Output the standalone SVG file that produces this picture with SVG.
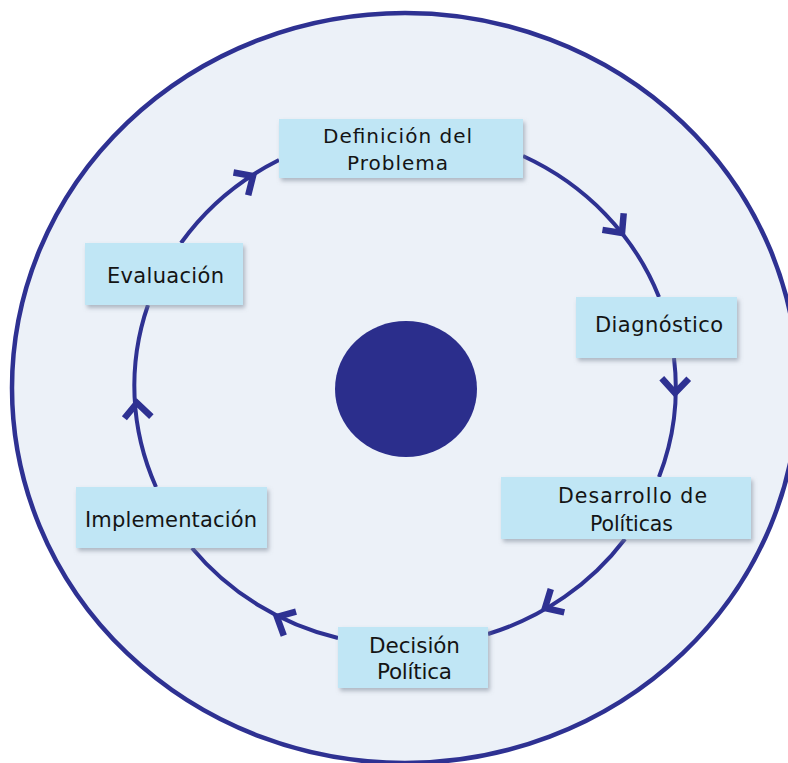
<svg xmlns="http://www.w3.org/2000/svg" width="788" height="763" viewBox="0 0 788 763">
  <defs>
    <filter id="sh" x="-10%" y="-20%" width="130%" height="150%">
      <feDropShadow dx="2" dy="3" stdDeviation="2" flood-color="#7a8594" flood-opacity="0.55"/>
    </filter>
    <path id="chev" d="M-14.5,-13.5 L0,0 L-14.5,13.5"/>
  </defs>
  <style>
    .box { fill: #C0E6F5; filter: url(#sh); }
    .lbl { font-family: "DejaVu Sans", "Liberation Sans", sans-serif; fill: #141414; text-anchor: middle; }
    .arc { fill: none; stroke: #2E3192; stroke-width: 4; }
    .hd { fill: none; stroke: #2E3192; stroke-width: 6.5; stroke-linejoin: miter; }
  </style>
  <rect width="788" height="763" fill="#FFFFFF"/>
  <g id="outer">
    <ellipse cx="405" cy="388" rx="393" ry="375" fill="#ECF1F8" stroke="#2E3192" stroke-width="4.5"/>
  </g>
  <g id="center">
    <ellipse cx="406" cy="389" rx="71" ry="68" fill="#2B2E8C"/>
  </g>
  <g id="connectors">
    <path class="arc" d="M181,243 A271,258 0 0,1 279,160"/>
    <path class="arc" d="M523,156 A271,258 0 0,1 659,297"/>
    <path class="arc" d="M674,358 A271,258 0 0,1 659,477"/>
    <path class="arc" d="M625,539 A271,258 0 0,1 488,634"/>
    <path class="arc" d="M338,638 A271,258 0 0,1 192,548"/>
    <path class="arc" d="M156,487 A271,258 0 0,1 148,305"/>
    <use href="#chev" class="hd" transform="translate(253,176) rotate(-33)"/>
    <use href="#chev" class="hd" transform="translate(622,233) rotate(52)"/>
    <use href="#chev" class="hd" transform="translate(675,393) rotate(91)"/>
    <use href="#chev" class="hd" transform="translate(545,608) rotate(150)"/>
    <use href="#chev" class="hd" transform="translate(277,617) rotate(207)"/>
    <use href="#chev" class="hd" transform="translate(137,403) rotate(-93.5)"/>
  </g>
  <g id="n-definicion">
    <rect class="box" x="279" y="119" width="244" height="59"/>
    <text class="lbl" font-size="20" x="397.5" y="143" textLength="149" lengthAdjust="spacing">Definición del</text>
    <text class="lbl" font-size="20" x="397.5" y="170" textLength="101" lengthAdjust="spacing">Problema</text>
  </g>
  <g id="n-diagnostico">
    <rect class="box" x="576" y="297" width="161" height="61"/>
    <text class="lbl" font-size="21" x="659" y="332" textLength="128" lengthAdjust="spacing">Diagnóstico</text>
  </g>
  <g id="n-desarrollo">
    <rect class="box" x="501" y="477" width="250" height="62"/>
    <text class="lbl" font-size="20.5" x="632.5" y="503" textLength="149" lengthAdjust="spacing">Desarrollo de</text>
    <text class="lbl" font-size="20.5" x="631.5" y="531" textLength="83" lengthAdjust="spacing">Políticas</text>
  </g>
  <g id="n-decision">
    <rect class="box" x="338" y="627" width="150" height="61"/>
    <text class="lbl" font-size="21.5" x="414.5" y="653" textLength="91" lengthAdjust="spacing">Decisión</text>
    <text class="lbl" font-size="21.5" x="414.5" y="679" textLength="75" lengthAdjust="spacing">Política</text>
  </g>
  <g id="n-implementacion">
    <rect class="box" x="76" y="487" width="191" height="61"/>
    <text class="lbl" font-size="21" x="171" y="527" textLength="172" lengthAdjust="spacing">Implementación</text>
  </g>
  <g id="n-evaluacion">
    <rect class="box" x="85" y="243" width="158" height="62"/>
    <text class="lbl" font-size="21" x="165.5" y="283" textLength="117" lengthAdjust="spacing">Evaluación</text>
  </g>
</svg>
